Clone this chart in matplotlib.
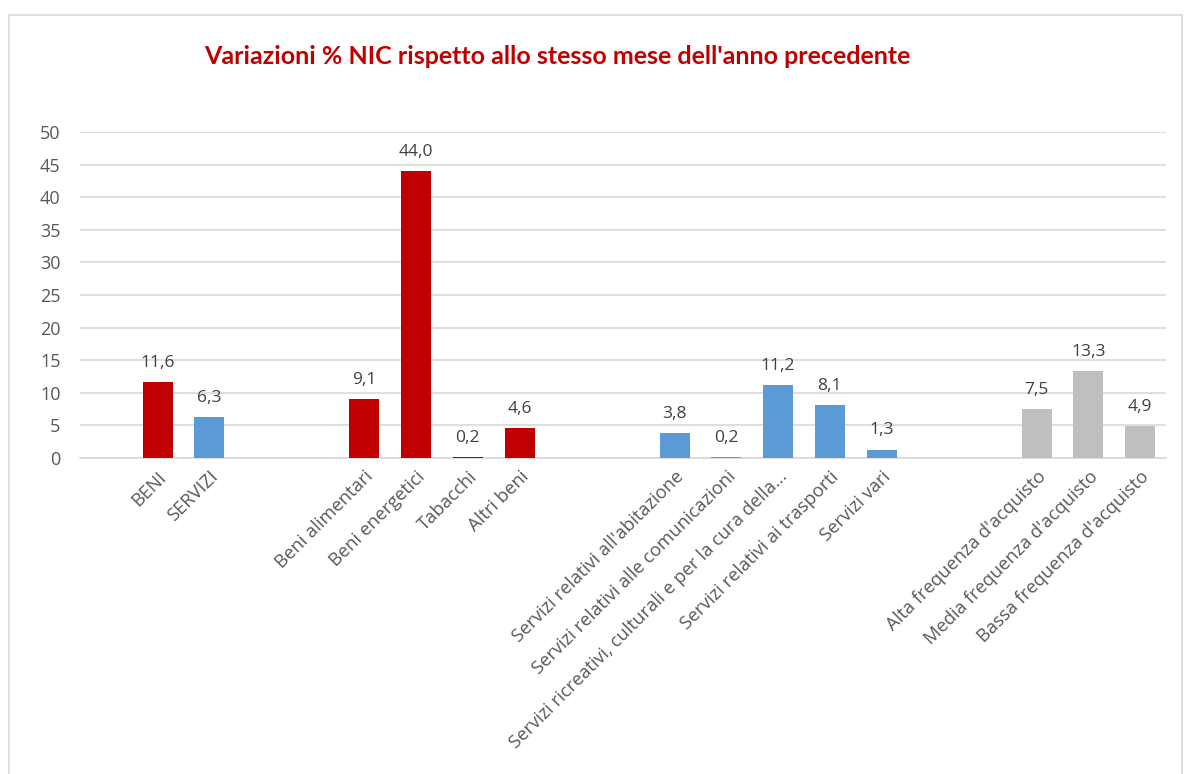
import numpy as np
import matplotlib.pyplot as plt
from matplotlib.patches import Rectangle

plt.rcParams['font.family'] = ['Open Sans', 'DejaVu Sans']

# categorie del grafico (le stringhe vuote sono le colonne lasciate vuote)
categorie = ["", "BENI", "SERVIZI", "", "",
             "Beni alimentari", "Beni energetici", "Tabacchi", "Altri beni", "", "",
             "Servizi relativi all'abitazione", "Servizi relativi alle comunicazioni",
             "Servizi ricreativi, culturali e per la cura della...",
             "Servizi relativi ai trasporti", "Servizi vari", "", "",
             "Alta frequenza d'acquisto", "Media frequenza d'acquisto",
             "Bassa frequenza d'acquisto"]
valori = [None, 11.6, 6.3, None, None,
          9.1, 44.0, 0.2, 4.6, None, None,
          3.8, 0.2, 11.2, 8.1, 1.3, None, None,
          7.5, 13.3, 4.9]
gruppo = ["", "beni", "servizi", "", "",
          "beni", "beni", "beni", "beni", "", "",
          "servizi", "servizi", "servizi", "servizi", "servizi", "", "",
          "freq", "freq", "freq"]
colori = {"beni": "#C00000", "servizi": "#5B9BD5", "freq": "#BFBFBF", "": "none"}

fig = plt.figure(figsize=(11.88, 7.74), dpi=100)
ax = fig.add_axes([80/1188, 1-458/774, (1166-80)/1188, (458-132)/774])

x = np.arange(len(categorie))
vals = np.array([np.nan if v is None else v for v in valori])
bars = ax.bar(x, np.nan_to_num(vals), width=0.58,
              color=[colori[g] for g in gruppo], zorder=3)

for xi, v in zip(x, valori):
    if v is None:
        continue
    ax.annotate(f"{v:.1f}".replace(".", ","), (xi, v), xytext=(0, 8),
                textcoords="offset points", ha="center", va="bottom",
                fontsize=12.5, color="#404040")

ax.set_xlim(-0.5, len(categorie) - 0.5)
ax.set_ylim(0, 50)
ax.set_yticks(np.arange(0, 51, 5))
ax.yaxis.grid(True, color="#D9D9D9", lw=1.2, zorder=0)
ax.set_axisbelow(True)
for s in ["top", "right", "left"]:
    ax.spines[s].set_visible(False)
ax.spines["bottom"].set_color("#D9D9D9")
ax.spines["bottom"].set_linewidth(1.2)
ax.tick_params(length=0)
ax.tick_params(axis="y", labelsize=13, labelcolor="#595959", pad=14)

ax.set_xticks(x)
ax.set_xticklabels(categorie, rotation=45, ha="right", rotation_mode="anchor",
                   fontsize=13.2, color="#595959")
ax.tick_params(axis="x", pad=7)

fig.text(557/1188, 1-57/774, "Variazioni % NIC rispetto allo stesso mese dell'anno precedente",
         ha="center", va="center", fontsize=18, fontweight="bold", color="#C00000",
         family=["Lato", "DejaVu Sans"])

fig.patches.append(Rectangle((9/1188, -0.1), (1182-9)/1188, 1.1 - 15/774,
                             transform=fig.transFigure, fill=False,
                             edgecolor="#D9D9D9", lw=1.2))

fig.savefig("out.png", dpi=100)
